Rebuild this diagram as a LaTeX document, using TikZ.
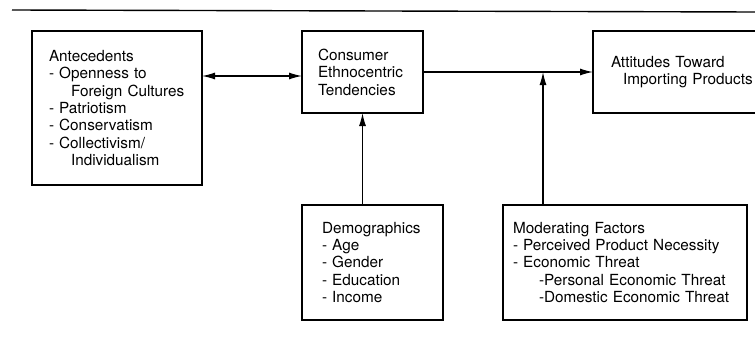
\documentclass[tikz,border=0pt]{standalone}
\usepackage{fontspec}
\setmainfont{TeX Gyre Heros}
\usetikzlibrary{arrows.meta,positioning,calc}

\begin{document}
\begin{tikzpicture}[x=1pt,y=-1pt]
\tikzstyle{boite}=[draw,line width=1.8pt,outer sep=0pt,anchor=north west,align=left,inner ysep=0pt,font=\fontsize{15.3}{17.4}\selectfont]
\tikzstyle{fleche}=[-{Latex[length=13pt,width=7pt]},line width=1.2pt]
\tikzstyle{doublefleche}=[{Latex[length=13pt,width=7pt]}-{Latex[length=13pt,width=7pt]},line width=1.2pt]
\tikzstyle{regle}=[line width=1.4pt]
\def\HautBoite{82pt}
\def\HautBas{115pt}
\def\Retrait#1#2{\hspace*{#1pt}\mbox{#2}}
\useasboundingbox (0,0) rectangle (755,340);
% rule on top
\coordinate (regleA) at (12,10);
\coordinate (regleB) at (755,12);
\draw[regle] (regleA) -- (regleB);
% top row
\node[boite,text width=136pt,inner xsep=17pt,minimum height=154pt] (ante) at (32,31)
  {Antecedents\\- Openness to\\\Retrait{22}{Foreign Cultures}\\- Patriotism\\- Conservatism\\- Collectivism/\\\Retrait{22}{Individualism}};
\node[boite,text width=89pt,inner xsep=16pt,minimum height=\HautBoite] (cet) at (302,31)
  {Consumer\\Ethnocentric\\Tendencies};
\node[boite,text width=160pt,inner xsep=18pt,minimum height=\HautBoite] (att) at (593,31)
  {Attitudes Toward\\\Retrait{12}{Importing Products}};
% bottom row
\node[boite,text width=101pt,inner xsep=20pt,minimum height=\HautBas] (demo) at (302,205)
  {Demographics\\- Age\\- Gender\\- Education\\- Income};
\node[boite,text width=224pt,inner xsep=10pt,minimum height=\HautBas] (mod) at (503,205)
  {Moderating Factors\\- Perceived Product Necessity\\- Economic Threat\\\Retrait{26}{-Personal Economic Threat}\\\Retrait{26}{-Domestic Economic Threat}};
% connectors
\coordinate (dbl) at ([yshift=-4pt]cet.west);
\coordinate (pied) at ([xshift=40pt]mod.north west);
\draw[doublefleche] (ante.east |- dbl) -- (dbl);
\draw[fleche] (cet.east) -- (att.west);
\draw[fleche] (demo.north -| cet.south) -- (cet.south);
\draw[fleche] (pied) -- (pied |- cet.east);
\end{tikzpicture}
\end{document}
